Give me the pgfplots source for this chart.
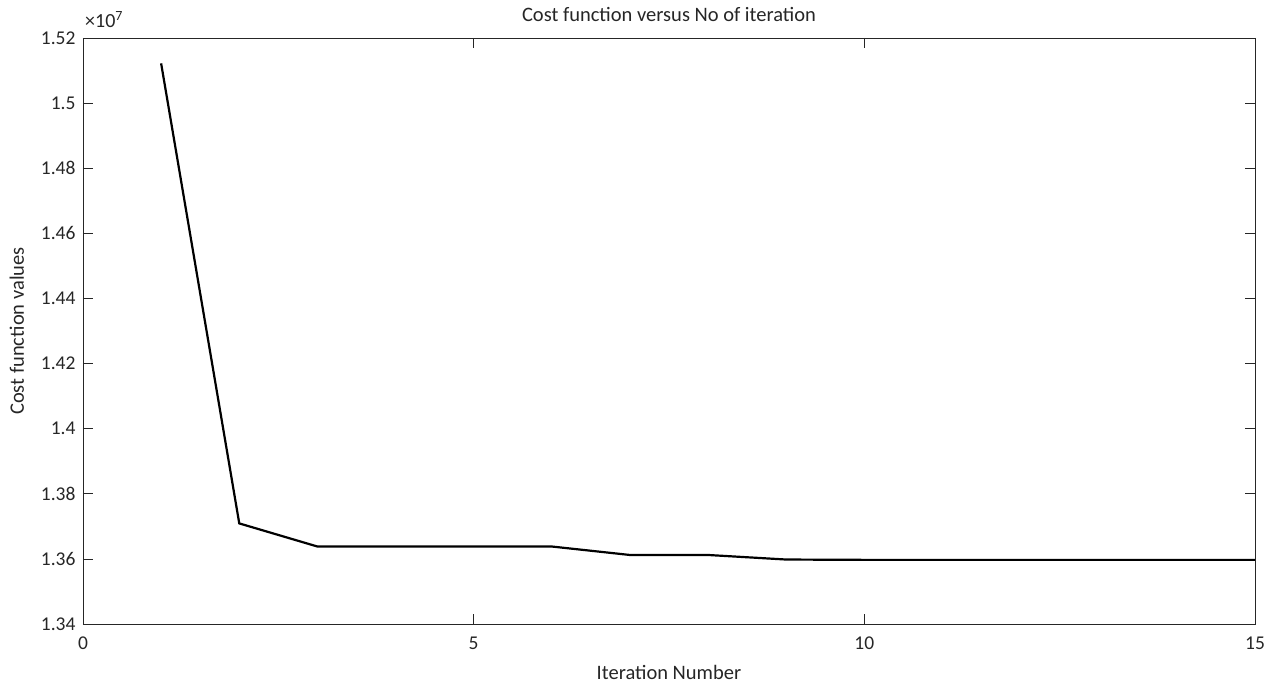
\documentclass[border=0pt]{standalone}
\usepackage{fontspec}
\setmainfont{Carlito}
\usepackage{pgfplots}
\pgfplotsset{compat=1.18}
\definecolor{axgray}{RGB}{38,38,38}
\begin{document}
\begin{tikzpicture}[x=1pt,y=1pt]
\useasboundingbox (-83,-63) rectangle (1191,624);
\begin{axis}[
  scale only axis,
  width=1172pt, height=586pt,
  at={(0,0)}, anchor=south west,
  xmin=0, xmax=15, ymin=13400000, ymax=15200000,
  xtick={0,5,10,15},
  ytick={13400000,13600000,13800000,14000000,14200000,14400000,14600000,14800000,15000000,15200000},
  yticklabels={1.34,1.36,1.38,1.4,1.42,1.44,1.46,1.48,1.5,1.52},
  scaled y ticks=false,
  /pgf/number format/assume math mode=true,
  yticklabel style={font=\fontsize{19.5}{22}\selectfont,text=axgray,xshift=-4pt},
  xticklabel style={font=\fontsize{19.5}{22}\selectfont,text=axgray,yshift=-9pt},
  tick align=inside,
  major tick length=10pt,
  every tick/.style={axgray,line width=0.7pt},
  axis line style={axgray,line width=0.9pt},
  title={Cost function versus No of iteration},
  title style={font=\fontsize{20.5}{24}\selectfont,text=axgray,at={(0.5,1)},anchor=south,yshift=7pt},
  xlabel={Iteration Number},
  ylabel={Cost function values},
  label style={font=\fontsize{20.5}{24}\selectfont,text=axgray},
  xlabel style={yshift=-9pt},
  ylabel style={yshift=10pt},
  clip=false,
]
\addplot[black,line width=2.2pt,line join=miter] coordinates {
  (1,15122000) (2,13709000) (3,13638000) (4,13638000) (5,13638000) (6,13638000)
  (7,13612000) (8,13612000) (9,13598000) (10,13597000) (11,13597000) (12,13597000)
  (13,13597000) (14,13597000) (15,13597000)
};
% exponent of the y axis tick values
\node[anchor=base west,inner sep=0pt,text=axgray,font=\fontsize{20}{24}\selectfont,xshift=2pt,yshift=10pt]
  at (rel axis cs:0,1) {×10\textsuperscript{7}};
\end{axis}
\end{tikzpicture}
\end{document}
